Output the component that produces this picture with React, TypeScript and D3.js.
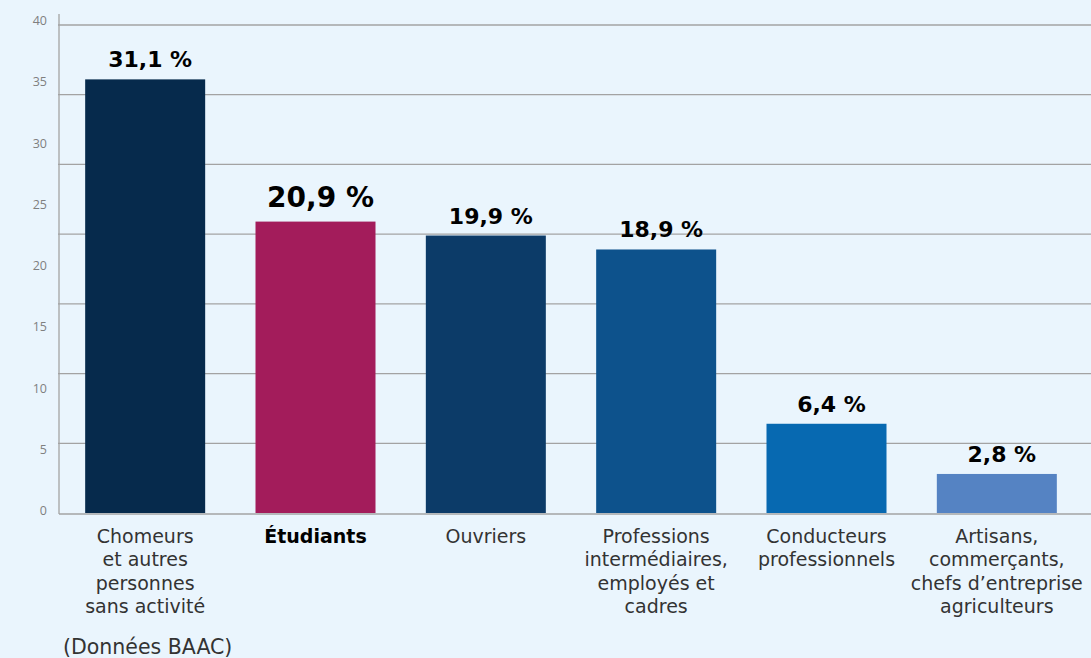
import React from "react";
import * as d3 from "d3";

const categories: string[][] = [
  ["Chomeurs", "et autres", "personnes", "sans activité"],
  ["Étudiants"],
  ["Ouvriers"],
  ["Professions", "intermédiaires,", "employés et", "cadres"],
  ["Conducteurs", "professionnels"],
  ["Artisans,", "commerçants,", "chefs d’entreprise", "agriculteurs"],
];
const values: number[] = [31.1, 20.9, 19.9, 18.9, 6.4, 2.8];
const valueLabels: string[] = ["31,1 %", "20,9 %", "19,9 %", "18,9 %", "6,4 %", "2,8 %"];
const barColors: string[] = ["#062A4C", "#A31C5B", "#0C3B68", "#0D528C", "#0769B1", "#5583C3"];
const highlighted: number = 1;
const gridValues: number[] = [5, 10, 15, 20, 25, 30, 35];
const tickLabels: number[] = [0, 5, 10, 15, 20, 25, 30, 35, 40];
const sourceNote = "(Données BAAC)";

const W = 1091;
const H = 658;
const BG = "#EAF5FD";

export default function App() {
  const axisX = 59;
  const baseY = 513;
  const x = d3
    .scaleBand<number>()
    .domain(values.map((_, i) => i))
    .range([60, 1082])
    .paddingInner(0.2955)
    .paddingOuter(0.2955 / 2);
  const y = d3.scaleLinear().domain([0, 35]).range([baseY, 25]);
  const tickY = d3.scaleLinear().domain([0, 40]).range([511, 20.5]);

  const font = "'DejaVu Sans', sans-serif";

  return (
    <svg
      width={W}
      height={H}
      style={{ position: "absolute", left: 0, top: 0, background: BG }}
    >
      <rect x={0} y={0} width={W} height={H} fill={BG} />
      {gridValues.map((g) => (
        <line
          key={g}
          x1={axisX - 1}
          x2={W}
          y1={y(g)}
          y2={y(g)}
          stroke="#A3A3A3"
          strokeWidth={1.3}
        />
      ))}
      {tickLabels.map((t) => (
        <text
          key={t}
          x={47}
          y={tickY(t)}
          dy="0.35em"
          textAnchor="end"
          fontFamily="'Open Sans', sans-serif"
          fontSize={12.5}
          fill="#7F7F7F"
        >
          {t}
        </text>
      ))}
      {values.map((v, i) => (
        <rect
          key={i}
          x={x(i)}
          y={y(v)}
          width={x.bandwidth()}
          height={baseY - y(v)}
          fill={barColors[i]}
        />
      ))}
      <line x1={axisX} x2={axisX} y1={14} y2={baseY + 1} stroke="#A3A3A3" strokeWidth={1.3} />
      <line x1={axisX} x2={W} y1={baseY + 1} y2={baseY + 1} stroke="#A3A3A3" strokeWidth={1.3} />
      {values.map((v, i) => {
        const cx = (x(i) as number) + x.bandwidth() / 2 + 5;
        const big = i === highlighted;
        return (
          <text
            key={i}
            x={cx}
            y={y(v) - (big ? 15 : 12)}
            textAnchor="middle"
            fontFamily={font}
            fontWeight="bold"
            fontSize={big ? 28 : 22}
            fill="#000"
          >
            {valueLabels[i]}
          </text>
        );
      })}
      {categories.map((lines, i) => {
        const cx = (x(i) as number) + x.bandwidth() / 2;
        const big = i === highlighted;
        return (
          <text
            key={i}
            x={cx}
            y={543}
            textAnchor="middle"
            fontFamily={font}
            fontWeight={big ? "bold" : "normal"}
            fontSize={19}
            fill={big ? "#000" : "#333"}
          >
            {lines.map((l, j) => (
              <tspan key={j} x={cx} dy={j === 0 ? 0 : 23.3}>
                {l}
              </tspan>
            ))}
          </text>
        );
      })}
      <text x={63} y={654} fontFamily={font} fontSize={20.5} fill="#333">
        {sourceNote}
      </text>
    </svg>
  );
}
